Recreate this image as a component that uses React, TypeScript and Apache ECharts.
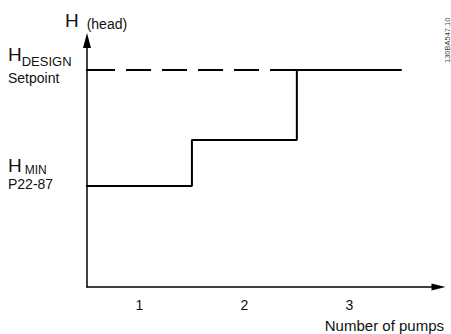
import React, { useEffect, useRef } from "react";
import * as echarts from "echarts";

// Pump staging: head level reached with each number of pumps (relative head, % of axis height)
const pumpTicks = [1, 2, 3];
const stepX = [0.405, 1.5, 2.5, 3.5]; // pump-count positions where the head changes
const headLevels = [41.0, 59.6, 88.0, 88.0];
const H_MIN = 41.0;
const H_DESIGN = 88.0;
const designDashX = [0.405, 2.5];

const FONT = '"Liberation Sans", Arial, sans-serif';

export default function App() {
  const ref = useRef<HTMLDivElement>(null);
  useEffect(() => {
    if (!ref.current) return;
    const chart = echarts.init(ref.current, undefined, { renderer: "svg" });
    const stepData = stepX.map((x, i) => [x, headLevels[i]]);
    const dashData = designDashX.map((x) => [x, H_DESIGN]);
    chart.setOption({
      animation: false,
      backgroundColor: "#ffffff",
      textStyle: { fontFamily: FONT, color: "#111" },
      title: {
        text: "Number of pumps",
        right: 7,
        top: 318,
        padding: 0,
        textStyle: { fontFamily: FONT, fontSize: 15, fontWeight: "normal", color: "#111" },
      },
      grid: {
        left: 87,
        right: 12.5,
        top: 40.5,
        bottom: 47,
        containLabel: false,
        outerBoundsMode: "none",
      },
      xAxis: {
        type: "value",
        min: 0.5,
        max: 3.85,
        axisLine: {
          show: true,
          onZero: false,
          symbol: ["none", "triangle"],
          symbolSize: [7, 14],
          lineStyle: { color: "#000", width: 1.5 },
        },
        axisTick: { show: false },
        splitLine: { show: false },
        axisLabel: {
          customValues: pumpTicks,
          fontFamily: FONT,
          fontSize: 14,
          color: "#111",
          margin: 11,
          verticalAlign: "top",
        },
      },
      yAxis: {
        type: "value",
        min: 0,
        max: 100,
        name: "{h|H}{hs|(head)}",
        nameLocation: "end",
        nameGap: 9.5,
        nameTextStyle: {
          padding: [0, 0, 0, 18],
          rich: {
            h: { fontFamily: FONT, fontSize: 19, lineHeight: 22, color: "#111" },
            hs: {
              fontFamily: FONT,
              fontSize: 14,
              lineHeight: 18,
              verticalAlign: "bottom",
              padding: [0, 0, 0, 8],
              color: "#111",
            },
          },
        },
        axisLine: {
          show: true,
          onZero: false,
          symbol: ["none", "triangle"],
          symbolSize: [8, 15],
          lineStyle: { color: "#000", width: 1.5 },
        },
        axisTick: { show: false },
        splitLine: { show: false },
        axisLabel: {
          customValues: [H_MIN, H_DESIGN],
          align: "left",
          margin: 79,
          formatter: (v: number) =>
            v === H_DESIGN
              ? "{h1|H}{sub1|DESIGN}\n{s1|Setpoint}\n{g1| }"
              : "{h2|H}{sub2|MIN}\n{s2|P22-87}\n{g2| }",
          rich: {
            h1: { fontFamily: FONT, fontSize: 19, lineHeight: 26, color: "#111" },
            sub1: { fontFamily: FONT, fontSize: 13, lineHeight: 15, verticalAlign: "bottom", color: "#111" },
            s1: { fontFamily: FONT, fontSize: 14, lineHeight: 20, color: "#111" },
            g1: { fontSize: 4, lineHeight: 11 },
            h2: { fontFamily: FONT, fontSize: 19, lineHeight: 20, color: "#111" },
            sub2: {
              fontFamily: FONT,
              fontSize: 12,
              lineHeight: 14,
              verticalAlign: "bottom",
              padding: [0, 0, 0, 3],
              color: "#111",
            },
            s2: { fontFamily: FONT, fontSize: 14, lineHeight: 16, color: "#111" },
            g2: { fontSize: 4, lineHeight: 24 },
          },
        },
      },
      graphic: [
        {
          type: "text",
          x: 451,
          y: 63,
          rotation: Math.PI / 2,
          style: {
            text: "130BA547.10",
            fontFamily: FONT,
            fontSize: 7.5,
            fill: "#444",
            align: "left",
            verticalAlign: "bottom",
          },
        },
      ],
      series: [
        {
          type: "line",
          data: dashData,
          clip: false,
          symbol: "none",
          silent: true,
          lineStyle: {
            color: "#000",
            width: 2,
            type: [38, 11, 25, 11, 25, 11, 25, 11, 25, 11, 30, 10],
          },
          z: 2,
        },
        {
          type: "line",
          data: stepData,
          step: "end",
          clip: false,
          symbol: "none",
          silent: true,
          lineStyle: { color: "#000", width: 2 },
          z: 3,
        },
      ],
    });
    return () => chart.dispose();
  }, []);
  return (
    <div
      ref={ref}
      style={{ position: "absolute", left: 0, top: 0, width: 451, height: 334, background: "#fff" }}
    />
  );
}
